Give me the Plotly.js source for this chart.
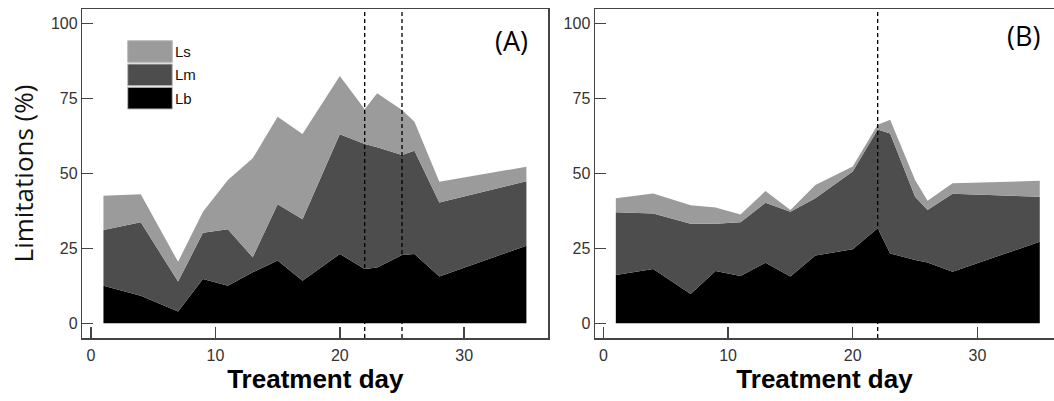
<!DOCTYPE html>
<html>
<head>
<meta charset="utf-8">
<script src="https://cdn.plot.ly/plotly-3.0.1.min.js"></script>
<style>html,body{margin:0;padding:0;background:#fff;}#chart{width:1054px;height:401px;}</style>
</head>
<body>
<div id="chart"></div>
<script>
// Treatment days
const daysA = [1, 4, 7, 9, 11, 13, 15, 17, 20, 22, 23, 25, 26, 28, 35];
const daysB = [1, 4, 7, 9, 11, 13, 15, 17, 20, 22, 23, 25, 26, 28, 35];
// Panel A limitation components (%)
const LbA = [12.5, 9.2, 3.9, 14.8, 12.5, 17.0, 20.9, 14.2, 23.1, 18.1, 18.6, 22.8, 23.1, 15.6, 25.9];
const LmA = [18.6, 24.5, 10.0, 15.4, 18.9, 5.0, 18.8, 20.5, 39.9, 41.7, 40.1, 33.3, 34.4, 24.7, 21.5];
const LsA = [11.4, 9.3, 6.6, 7.0, 16.4, 33.0, 29.2, 28.4, 19.5, 11.6, 18.0, 15.0, 9.7, 6.9, 4.8];
// Panel B limitation components (%)
const LbB = [16.1, 18.1, 9.8, 17.4, 15.8, 20.2, 15.6, 22.6, 24.7, 31.7, 23.3, 21.1, 20.3, 17.2, 27.2];
const LmB = [20.9, 18.5, 23.4, 15.8, 17.9, 20.0, 21.6, 19.1, 25.9, 32.9, 40.0, 21.1, 17.5, 26.0, 15.0];
const LsB = [4.7, 6.7, 6.2, 5.4, 2.6, 3.9, 0.6, 4.4, 1.7, 1.6, 4.6, 5.6, 3.1, 3.5, 5.3];
// Marker days (dashed lines)
const markA = [22, 25];
const markB = [22];
const seriesNames = ['Lb', 'Lm', 'Ls'];
const seriesColors = ['#000000', '#4d4d4d', '#9b9b9b'];
const xTicks = [0, 10, 20, 30];
const yTicks = [0, 25, 50, 75, 100];

const W = 1054, H = 401;
const px = v => v / W;
const py = v => 1 - v / H;

function stack(days, comps, xa, ya, grp) {
  return comps.map((vals, i) => ({
    type: 'scatter', mode: 'lines', x: days, y: vals,
    stackgroup: grp, name: seriesNames[i],
    line: {width: 0, color: seriesColors[i]},
    fillcolor: seriesColors[i],
    xaxis: xa, yaxis: ya, showlegend: false, hoverinfo: 'skip'
  }));
}

const traces = [
  ...stack(daysA, [LbA, LmA, LsA], 'x', 'y', 'a'),
  ...stack(daysB, [LbB, LmB, LsB], 'x2', 'y2', 'b')
];

const axCommon = {
  showgrid: false, zeroline: false, showline: true, linecolor: '#444', linewidth: 1.5,
  ticks: 'inside', ticklen: 11, tickwidth: 1.5, tickcolor: '#444',
  tickfont: {family: 'Liberation Sans, Arial', size: 16, color: '#333'},
  fixedrange: true
};
const xTitleFont = {family: 'Liberation Sans, Arial', size: 26, color: '#000', weight: 'bold'};

const yDom = [py(338), py(9)];
const layout = {
  width: W, height: H,
  margin: {l: 0, r: 0, t: 0, b: 0},
  paper_bgcolor: '#fff', plot_bgcolor: '#fff',
  showlegend: false,
  xaxis: Object.assign({}, axCommon, {
    domain: [px(82.3), px(548.3)], range: [-0.7, 36.76], tickvals: xTicks, mirror: true,
    anchor: 'y', ticklabelstandoff: 2,
    title: {text: 'Treatment day', font: xTitleFont, standoff: 4}
  }),
  yaxis: Object.assign({}, axCommon, {
    domain: yDom, range: [-4.9, 104.8], tickvals: yTicks, mirror: true, anchor: 'x',
    title: {text: 'Limitations (%)', font: {family: 'Open Sans', size: 26, color: '#111'}, standoff: 10}
  }),
  xaxis2: Object.assign({}, axCommon, {
    domain: [px(595), 1], range: [-0.67, 36.14], tickvals: xTicks, mirror: true,
    anchor: 'y2', ticklabelstandoff: 2,
    title: {text: 'Treatment day', font: xTitleFont, standoff: 4}
  }),
  yaxis2: Object.assign({}, axCommon, {
    domain: yDom, range: [-4.9, 104.8], tickvals: yTicks, mirror: false, anchor: 'x2'
  }),
  shapes: [],
  annotations: []
};

markA.forEach(d => layout.shapes.push({type: 'line', xref: 'x', yref: 'y domain', x0: d, x1: d, y0: 0, y1: 1,
  line: {color: '#000', width: 1.3, dash: '4px,3px'}}));
markB.forEach(d => layout.shapes.push({type: 'line', xref: 'x2', yref: 'y2 domain', x0: d, x1: d, y0: 0, y1: 1,
  line: {color: '#000', width: 1.3, dash: '4px,3px'}}));

// Legend boxes (panel A), drawn top to bottom: Ls, Lm, Lb
const legBoxes = [[40.7, 62.3], [64, 85.7], [87.3, 109]];
[2, 1, 0].forEach((si, k) => {
  const [t, b] = legBoxes[k];
  layout.shapes.push({type: 'rect', xref: 'paper', yref: 'paper', x0: px(127.7), x1: px(172.3), y0: py(b), y1: py(t),
    fillcolor: seriesColors[si], line: {color: '#bbb', width: 1}});
  layout.annotations.push({xref: 'paper', yref: 'paper', x: px(172.5), y: py((t + b) / 2), xanchor: 'left', yanchor: 'middle',
    text: seriesNames[si], showarrow: false, font: {family: 'Liberation Sans, Arial', size: 15, color: '#111'}});
});

layout.annotations.push({xref: 'paper', yref: 'paper', x: px(511), y: py(40), xanchor: 'center', yanchor: 'middle',
  text: '(A)', showarrow: false, font: {family: 'Open Sans', size: 27, color: '#000'}});
layout.annotations.push({xref: 'paper', yref: 'paper', x: px(1023), y: py(36), xanchor: 'center', yanchor: 'middle',
  text: '(B)', showarrow: false, font: {family: 'Open Sans', size: 27, color: '#000'}});

Plotly.newPlot('chart', traces, layout, {staticPlot: true, displayModeBar: false});
</script>
</body>
</html>
